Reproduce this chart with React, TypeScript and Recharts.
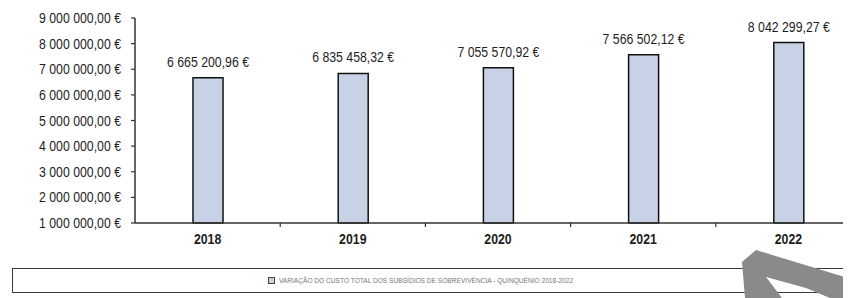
import React from "react";
import { BarChart, Bar, XAxis, YAxis, Legend, LabelList } from "recharts";

const years = ["2018", "2019", "2020", "2021", "2022"];
const totals = [6665200.96, 6835458.32, 7055570.92, 7566502.12, 8042299.27];
const yTicks = [1000000, 2000000, 3000000, 4000000, 5000000, 6000000, 7000000, 8000000, 9000000];
const seriesName = "VARIAÇÃO DO CUSTO TOTAL DOS SUBSÍDIOS DE SOBREVIVÊNCIA - QUINQUÉNIO 2018-2022";

const data = years.map((year, i) => ({ year, total: totals[i] }));

const FONT = "'Liberation Sans', Arial, sans-serif";
const BAR_FILL = "#c8d2e7";
const TEXT = "#1e1e1e";
// the scan uses a narrow face; squeeze a normal one horizontally
const SQUEEZE = 0.82;

const euro = (n: number) => {
  const [int, dec] = Number(n).toFixed(2).split(".");
  const grouped = int.replace(/\B(?=(\d{3})+(?!\d))/g, " ");
  return `${grouped},${dec} €`;
};

const NarrowText = ({ x, y, anchor, size, bold, sx = SQUEEZE, children }: any) => (
  <text
    transform={`translate(${x},${y}) scale(${sx},1)`}
    textAnchor={anchor}
    fontFamily={FONT}
    fontSize={size}
    fontWeight={bold ? "bold" : "normal"}
    fill={TEXT}
  >
    {children}
  </text>
);

const YearTick = (props: any) => {
  const { x, y, payload } = props;
  const off = payload?.offset ?? 0;
  return (
    <g>
      <line x1={x + off} y1={y} x2={x + off} y2={y + 4} stroke="#333" strokeWidth={1.2} />
      <NarrowText x={x} y={y + 21} anchor="middle" size={14} bold sx={0.88}>
        {payload.value}
      </NarrowText>
    </g>
  );
};

const MoneyTick = (props: any) => {
  const { x, y, payload } = props;
  return (
    <NarrowText x={x} y={y + 5} anchor="end" size={15}>
      {euro(payload.value)}
    </NarrowText>
  );
};

const ValueLabel = (props: any) => {
  const { x, y, width, value } = props;
  return (
    <NarrowText x={x + width / 2} y={y - 11} anchor="middle" size={15}>
      {euro(value)}
    </NarrowText>
  );
};

const LegendBox = () => (
  <div
    style={{
      height: 25,
      boxSizing: "border-box",
      border: "1.5px solid #3a3a3a",
      display: "flex",
      alignItems: "center",
      justifyContent: "center",
      paddingRight: 18,
      fontFamily: FONT,
      fontSize: 6.6,
      color: "#777",
    }}
  >
    <span
      style={{
        display: "inline-block",
        width: 5,
        height: 5,
        background: BAR_FILL,
        border: "1px solid #444",
        marginRight: 4,
      }}
    />
    {seriesName}
  </div>
);

export default function App() {
  return (
    <div
      style={{
        position: "relative",
        width: 851,
        height: 298,
        overflow: "hidden",
        background: "#fff",
        marginLeft: -8,
        marginTop: -8,
      }}
    >
      <BarChart
        width={861}
        height={298}
        data={data}
        margin={{ top: 18, right: 0, bottom: 4, left: 0 }}
      >
        <XAxis
          dataKey="year"
          height={46}
          axisLine={{ stroke: "#333", strokeWidth: 1.5 }}
          tickLine={false}
          tickSize={0}
          tickMargin={0}
          tick={<YearTick />}
          interval={0}
        />
        <YAxis
          width={135}
          domain={[1000000, 9000000]}
          ticks={yTicks}
          interval={0}
          axisLine={{ stroke: "#333", strokeWidth: 1.5 }}
          tickLine={{ stroke: "#333", strokeWidth: 1.2 }}
          tickSize={4}
          tickMargin={10}
          tick={<MoneyTick />}
        />
        <Legend
          verticalAlign="bottom"
          content={<LegendBox />}
          wrapperStyle={{ left: 12, width: 835, top: 268, bottom: "auto", height: 25 }}
        />
        <Bar
          dataKey="total"
          name={seriesName}
          barSize={30}
          fill={BAR_FILL}
          stroke="#111"
          strokeWidth={1.5}
          isAnimationActive={false}
        >
          <LabelList dataKey="total" content={<ValueLabel />} />
        </Bar>
      </BarChart>
      <svg
        width={851}
        height={298}
        style={{ position: "absolute", left: 0, top: 0, pointerEvents: "none" }}
      >
        <path
          d="M742,262 L756,250 L851,279 L851,298 L745,298 Z M766,277 L806,288 L830,298 L782,298 Z"
          fill="#8a8a8a"
          fillRule="evenodd"
        />
      </svg>
    </div>
  );
}
